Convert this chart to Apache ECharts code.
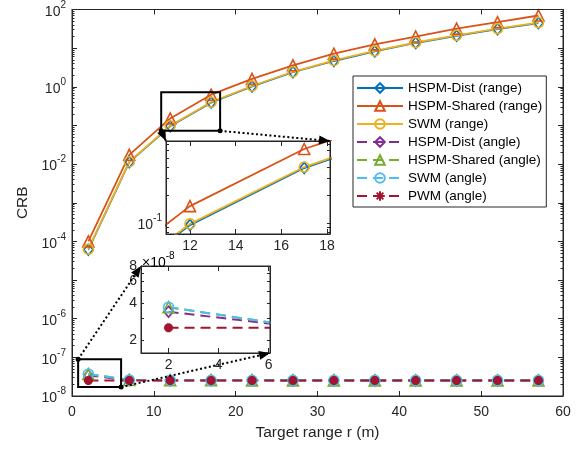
<!DOCTYPE html>
<html>
<head>
<meta charset="utf-8">
<script src="https://cdn.jsdelivr.net/npm/echarts@6/dist/echarts.min.js"></script>
<style>
html, body { margin: 0; padding: 0; background: #fff; }
#chart { width: 584px; height: 449px; }
</style>
</head>
<body>
<div id="chart"></div>
<script>
// target ranges (m)
var ranges = [2, 7, 12, 17, 22, 27, 32, 37, 42, 47, 52, 57];
// CRB values
var hspmDistRange   = [6.1e-5, 0.0112, 0.095, 0.39, 1.02, 2.38, 4.65, 8.2, 13.6, 20.8, 31, 44.5];
var hspmSharedRange = [1.0e-4, 0.0174, 0.152, 0.625, 1.6, 3.6, 7.2, 12.5, 20, 32, 47, 70];
var swmRange        = [6.3e-5, 0.0115, 0.098, 0.40, 1.05, 2.45, 4.8, 8.5, 14, 21.5, 32, 46];
var hspmDistAngle   = [3.4e-8, 2.58e-8, 2.55e-8, 2.54e-8, 2.54e-8, 2.53e-8, 2.53e-8, 2.53e-8, 2.53e-8, 2.53e-8, 2.53e-8, 2.53e-8];
var hspmSharedAngle = [3.7e-8, 2.6e-8, 2.56e-8, 2.55e-8, 2.54e-8, 2.54e-8, 2.54e-8, 2.53e-8, 2.53e-8, 2.53e-8, 2.53e-8, 2.53e-8];
var swmAngle        = [3.7e-8, 2.6e-8, 2.56e-8, 2.55e-8, 2.54e-8, 2.54e-8, 2.54e-8, 2.53e-8, 2.53e-8, 2.53e-8, 2.53e-8, 2.53e-8];
var pwmAngle        = [2.52e-8, 2.52e-8, 2.52e-8, 2.52e-8, 2.52e-8, 2.52e-8, 2.52e-8, 2.52e-8, 2.52e-8, 2.52e-8, 2.52e-8, 2.52e-8];
// tick labels (exponents of 10)
var mainYLabels = [-8, -7, -6, -4, -2, 0, 2];
var xTicksMain = [0, 10, 20, 30, 40, 50, 60];
var xTicksZoom1 = [12, 14, 16, 18];
var xTicksZoom2 = [2, 4, 6];
var yTicksZoom2 = [2, 4, 6, 8]; // x 1e-8

var FONT = "'Liberation Sans', Arial, Helvetica, sans-serif";
var INK = '#262626';

var chart = echarts.init(document.getElementById('chart'));

function lg(arr) {
	return arr.map(function (v, i) { return [ranges[i], Math.log10(v)]; });
}
function minorTicks(lo, hi) {
	var t = [];
	for (var n = Math.floor(lo); n < Math.ceil(hi); n++) {
		for (var k = 1; k <= 9; k++) {
			var v = n + Math.log10(k);
			if (v >= lo && v <= hi) t.push(v);
		}
	}
	return t;
}
var supRich = {
	b: { fontSize: 14, color: INK, fontFamily: FONT, verticalAlign: 'bottom' },
	s: { fontSize: 10, color: INK, fontFamily: FONT, verticalAlign: 'top', padding: [0, 0, 9, 0] }
};
function supLabel(v) { return '{b|10}{s|' + Math.round(v) + '}'; }

var lineAx = { onZero: false, lineStyle: { color: INK, width: 1 } };
var tickIn = function (vals, len) {
	return { inside: true, length: len, customValues: vals, lineStyle: { color: INK, width: 1 } };
};
var noLabel = { show: false };
var noSplit = { show: false };

// main y ticks
var mainMajor = [];
for (var n = -8; n <= 2; n++) mainMajor.push(n);
var mainMinor = minorTicks(-8, 2);
var z1lo = -1.118, z1hi = -0.118;
var z2lo = Math.log10(1.57e-8), z2hi = Math.log10(8e-8);
var z1Ticks = minorTicks(z1lo, z1hi);
var z2Ticks = [2, 3, 4, 5, 6, 7, 8].map(function (k) { return Math.log10(k * 1e-8); });

function xAxis(grid, min, max, pos, ticks, labels, margin, extra) {
	var a = {
		gridIndex: grid, type: 'value', min: min, max: max, position: pos,
		axisLine: lineAx, axisTick: tickIn(ticks, 5), splitLine: noSplit,
		axisLabel: labels ? { customValues: labels, fontSize: 14, color: INK, fontFamily: FONT, margin: margin } : noLabel
	};
	return Object.assign(a, extra || {});
}
function yAxis(grid, min, max, pos, ticks, len, showLine, label, extra) {
	var a = {
		gridIndex: grid, type: 'value', min: min, max: max, position: pos,
		axisLine: showLine ? lineAx : { show: false, onZero: false }, axisTick: tickIn(ticks, len), splitLine: noSplit,
		axisLabel: label || noLabel
	};
	return Object.assign(a, extra || {});
}

var names = ['HSPM-Dist (range)', 'HSPM-Shared (range)', 'SWM (range)', 'HSPM-Dist (angle)', 'HSPM-Shared (angle)', 'SWM (angle)', 'PWM (angle)'];
var colors = ['#0072BD', '#D95319', '#EDB120', '#7E2F8E', '#77AC30', '#4DBEEE', '#A2142F'];
var symbols = ['diamond', 'triangle', 'circle', 'diamond', 'triangle', 'circle', 'path://M0,-10L0,10M-10,0L10,0M-7,-7L7,7M-7,7L7,-7'];
var sizes = [[9, 11], 11, 10, [9, 11], 11, 10, 9];
var values = [hspmDistRange, hspmSharedRange, swmRange, hspmDistAngle, hspmSharedAngle, swmAngle, pwmAngle];

function mkSeries(i, xi, yi) {
	var dashed = i >= 3;
	return {
		name: names[i], type: 'line', xAxisIndex: xi, yAxisIndex: yi,
		data: lg(values[i]), color: colors[i],
		symbol: symbols[i], symbolSize: sizes[i], showAllSymbol: true,
		lineStyle: { color: colors[i], width: dashed ? 2 : 1.8, type: dashed ? [10, 6] : 'solid' },
		itemStyle: { color: 'rgba(255,255,255,0)', borderColor: colors[i], borderWidth: i === 6 ? 3 : 1.6 },
		emphasis: { disabled: true }, animation: false, clip: true
	};
}

var series = [];
for (var i = 0; i < 7; i++) series.push(mkSeries(i, 0, 0));
for (var i = 0; i < 3; i++) series.push(mkSeries(i, 2, 4));
for (var i = 3; i < 7; i++) series.push(mkSeries(i, 4, 6));

chart.setOption({
	animation: false,
	grid: [
		{ left: 72, top: 8, width: 491, height: 388, show: false },
		{ left: 166, top: 141, width: 164, height: 93, show: true, backgroundColor: '#fff', borderWidth: 0 },
		{ left: 141, top: 266, width: 129, height: 87, show: true, backgroundColor: '#fff', borderWidth: 0 }
	],
	xAxis: [
		xAxis(0, 0, 60, 'bottom', xTicksMain, xTicksMain, 9, {
			name: 'Target range r (m)', nameLocation: 'middle', nameGap: 29,
			nameTextStyle: { fontSize: 15.5, color: INK, fontFamily: FONT }
		}),
		xAxis(0, 0, 60, 'top', xTicksMain, null),
		xAxis(1, 10.95, 18.13, 'bottom', xTicksZoom1, xTicksZoom1, 5),
		xAxis(1, 10.95, 18.13, 'top', xTicksZoom1, null),
		xAxis(2, 0.9, 6.05, 'bottom', xTicksZoom2, xTicksZoom2, 5),
		xAxis(2, 0.9, 6.05, 'top', xTicksZoom2, null)
	],
	yAxis: [
		yAxis(0, -8, 2, 'left', mainMajor, 5, true, {
			customValues: mainYLabels, formatter: supLabel, rich: supRich, margin: 6
		}, {
			name: 'CRB', nameLocation: 'middle', nameGap: 36,
			nameTextStyle: { fontSize: 15.5, color: INK, fontFamily: FONT }
		}),
		yAxis(0, -8, 2, 'left', mainMinor, 2.5, false),
		yAxis(0, -8, 2, 'right', mainMajor, 5, true),
		yAxis(0, -8, 2, 'right', mainMinor, 2.5, false),
		yAxis(1, z1lo, z1hi, 'left', z1Ticks, 3, true, {
			customValues: [-1], formatter: supLabel, rich: supRich, margin: 4
		}),
		yAxis(1, z1lo, z1hi, 'right', z1Ticks, 3, true),
		yAxis(2, z2lo, z2hi, 'left', z2Ticks, 3, true, {
			customValues: yTicksZoom2.map(function (k) { return Math.log10(k * 1e-8); }),
			formatter: function (v) { return String(Math.round(Math.pow(10, v + 8))); },
			fontSize: 14, color: INK, fontFamily: FONT, margin: 4
		}),
		yAxis(2, z2lo, z2hi, 'right', z2Ticks, 3, true)
	],
	legend: {
		data: names, orient: 'vertical', left: 353, top: 76,
		backgroundColor: '#fff', borderColor: INK, borderWidth: 1, borderRadius: 0,
		padding: [5, 4, 4, 3], itemWidth: 46, itemHeight: 12, itemGap: 4,
		selectedMode: false,
		textStyle: { fontSize: 13.5, color: '#000', fontFamily: FONT }
	},
	series: series
});

// zoom boxes and arrows, placed through the axes
function px(xi, yi, p) { return chart.convertToPixel({ xAxisIndex: xi, yAxisIndex: yi }, p); }
function arrowHead(a, b) {
	var dx = b[0] - a[0], dy = b[1] - a[1], L = Math.sqrt(dx * dx + dy * dy);
	var ux = dx / L, uy = dy / L, len = 11, w = 4.5;
	var bx = b[0] - ux * len, by = b[1] - uy * len;
	return { type: 'polygon', z: 100, shape: { points: [b, [bx - uy * w, by + ux * w], [bx + uy * w, by - ux * w]] }, style: { fill: '#000' } };
}
function dotted(a, b) {
	return [
		{ type: 'line', z: 100, shape: { x1: a[0], y1: a[1], x2: b[0], y2: b[1] }, style: { stroke: '#000', lineWidth: 2, lineDash: [2, 2.5] } },
		{ type: 'circle', z: 100, shape: { cx: a[0], cy: a[1], r: 2.5 }, style: { fill: '#000' } },
		arrowHead(a, b)
	];
}
function rect(p1, p2) {
	return { type: 'rect', z: 100, shape: { x: p1[0], y: p1[1], width: p2[0] - p1[0], height: p2[1] - p1[1] }, style: { fill: 'none', stroke: '#000', lineWidth: 2 } };
}
function box(gi) {
	var r = chart.getModel().getComponent('grid', gi).coordinateSystem.getRect();
	return { type: 'rect', z: 99, shape: { x: r.x, y: r.y, width: r.width, height: r.height }, style: { fill: 'none', stroke: INK, lineWidth: 1 } };
}

var b1tl = px(0, 0, [10.9, -0.14]), b1br = px(0, 0, [18.1, -1.14]);
var b2tl = px(0, 0, [0.75, -7.05]), b2br = px(0, 0, [6.0, -7.77]);
var i1tl = px(2, 4, [10.95, z1hi]), i1tr = px(2, 4, [18.13, z1hi]);
var i2tl = px(4, 6, [0.9, z2hi]), i2br = px(4, 6, [6.05, z2lo]);

var g = [rect(b1tl, b1br), rect(b2tl, b2br), box(0), box(1), box(2)];
g = g.concat(dotted([b1br[0], b1br[1]], i1tr));
g = g.concat(dotted([b1tl[0], b1br[1]], i1tl));
g = g.concat(dotted([b2tl[0], b2tl[1]], i2tl));
g = g.concat(dotted([b2br[0], b2br[1]], i2br));
// exponent note above the second inset
g.push({
	type: 'text', z: 100, x: i2tl[0] + 1, y: i2tl[1] + 4,
	style: { text: '{b|\u00d710}{s|-8}', rich: supRich, align: 'left', verticalAlign: 'bottom' }
});
chart.setOption({ graphic: g });
</script>
</body>
</html>
